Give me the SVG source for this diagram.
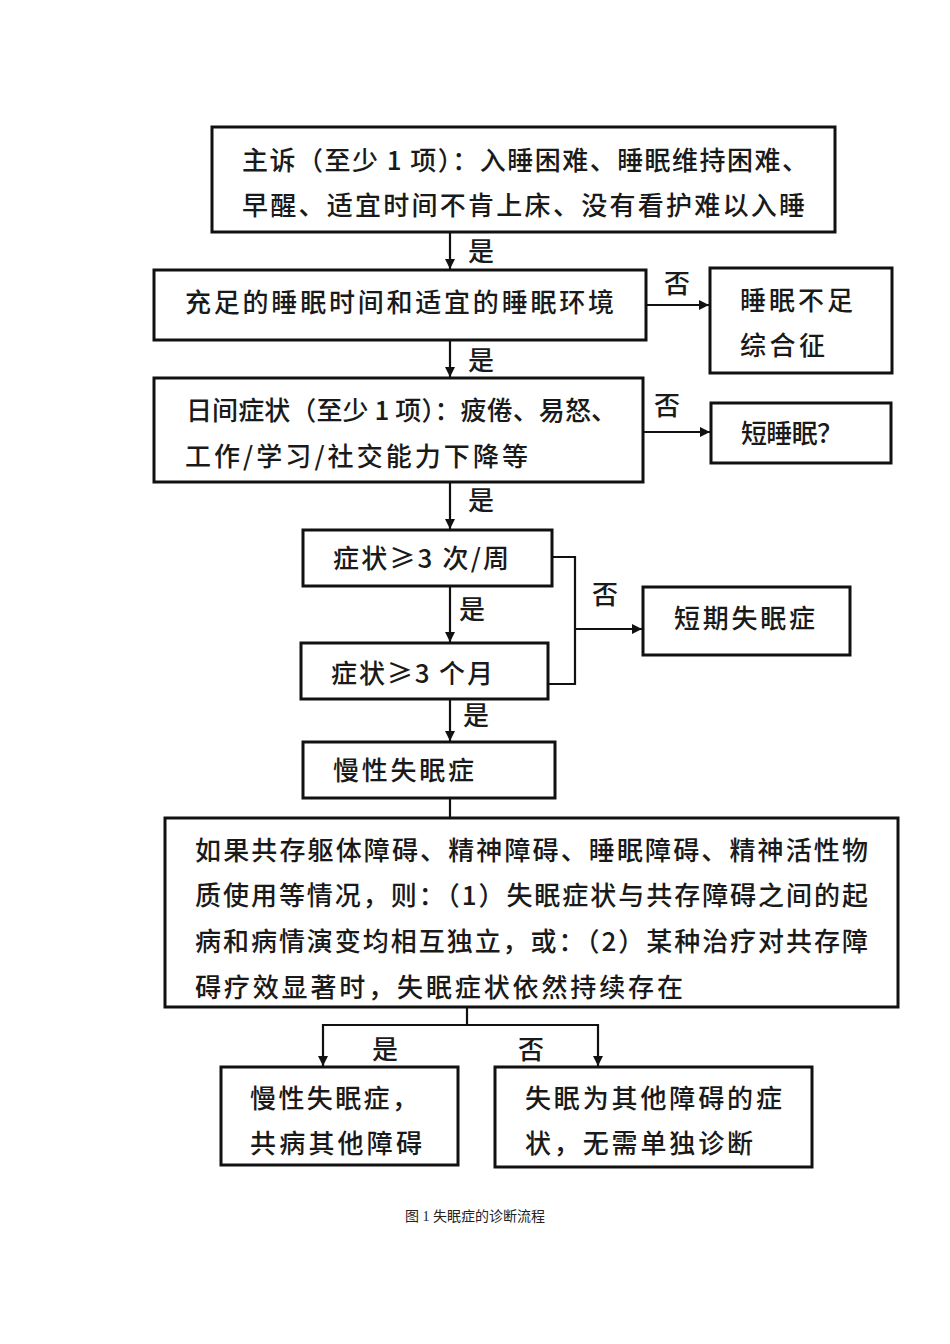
<svg xmlns="http://www.w3.org/2000/svg" width="950" height="1344" viewBox="0 0 950 1344">
<style>
.box{fill:#fff;stroke:#111;stroke-width:3}
.t{font-family:"Noto Sans CJK SC","Noto Sans",sans-serif;font-size:26px;fill:#1a1a1a;font-weight:500}
.lb{font-family:"Noto Sans CJK SC","Noto Sans",sans-serif;font-size:26px;fill:#1a1a1a;text-anchor:middle;font-weight:500}
.cap{font-family:"Liberation Serif","Noto Sans CJK SC",serif;font-size:14px;fill:#222;text-anchor:middle}
.c{fill:none;stroke:#111;stroke-width:2.2}
</style>
<defs>
<marker id="ah" viewBox="0 0 10 10" refX="10" refY="5" markerWidth="10" markerHeight="10" markerUnits="userSpaceOnUse" orient="auto">
<path d="M0,0 L10,5 L0,10 z" fill="#111"/>
</marker>
</defs>
<rect width="950" height="1344" fill="#fff"/>
<g id="connectors">
<line class="c" x1="450" y1="232" x2="450" y2="269" marker-end="url(#ah)"/>
<line class="c" x1="646" y1="305" x2="709" y2="305" marker-end="url(#ah)"/>
<line class="c" x1="450" y1="340" x2="450" y2="377" marker-end="url(#ah)"/>
<line class="c" x1="643" y1="432" x2="710" y2="432" marker-end="url(#ah)"/>
<line class="c" x1="450" y1="482" x2="450" y2="529" marker-end="url(#ah)"/>
<polyline class="c" points="552,557 575,557 575,684 548,684"/>
<line class="c" x1="575" y1="629" x2="642" y2="629" marker-end="url(#ah)"/>
<line class="c" x1="450" y1="586" x2="450" y2="642" marker-end="url(#ah)"/>
<line class="c" x1="450" y1="699" x2="450" y2="741" marker-end="url(#ah)"/>
<line class="c" x1="450" y1="798" x2="450" y2="818"/>
<line class="c" x1="467" y1="1007" x2="467" y2="1025"/>
<line class="c" x1="323" y1="1025" x2="598" y2="1025"/>
<line class="c" x1="323" y1="1024" x2="323" y2="1066" marker-end="url(#ah)"/>
<line class="c" x1="598" y1="1024" x2="598" y2="1066" marker-end="url(#ah)"/>
<text class="lb" x="481" y="261">是</text>
<text class="lb" x="677" y="293">否</text>
<text class="lb" x="481" y="370">是</text>
<text class="lb" x="667" y="415">否</text>
<text class="lb" x="481" y="510">是</text>
<text class="lb" x="605" y="604">否</text>
<text class="lb" x="472" y="619">是</text>
<text class="lb" x="476" y="725">是</text>
<text class="lb" x="385" y="1059">是</text>
<text class="lb" x="531" y="1059">否</text>
</g>
<g id="n1">
<rect class="box" x="212" y="127" width="623" height="105"/>
<text class="t" x="242" y="170" textLength="566" lengthAdjust="spacing">主诉（至少 1 项）：入睡困难、睡眠维持困难、</text>
<text class="t" x="242" y="215" textLength="563" lengthAdjust="spacing">早醒、适宜时间不肯上床、没有看护难以入睡</text>
</g>
<g id="n2">
<rect class="box" x="154" y="270" width="492" height="70"/>
<text class="t" x="185" y="312" textLength="429" lengthAdjust="spacing">充足的睡眠时间和适宜的睡眠环境</text>
</g>
<g id="n3">
<rect class="box" x="710" y="268" width="182" height="105"/>
<text class="t" x="740" y="310" textLength="113" lengthAdjust="spacing">睡眠不足</text>
<text class="t" x="740" y="355" textLength="85" lengthAdjust="spacing">综合征</text>
</g>
<g id="n4">
<rect class="box" x="154" y="378" width="489" height="104"/>
<text class="t" x="186" y="420" textLength="431" lengthAdjust="spacing">日间症状（至少 1 项）：疲倦、易怒、</text>
<text class="t" x="185" y="466" textLength="343" lengthAdjust="spacing">工作/学习/社交能力下降等</text>
</g>
<g id="n5">
<rect class="box" x="711" y="403" width="180" height="60"/>
<text class="t" x="741" y="443" textLength="102" lengthAdjust="spacing">短睡眠？</text>
</g>
<g id="n6">
<rect class="box" x="303" y="530" width="249" height="56"/>
<text class="t" x="333" y="568" textLength="176" lengthAdjust="spacing">症状≥3 次/周</text>
</g>
<g id="n7">
<rect class="box" x="643" y="587" width="207" height="68"/>
<text class="t" x="674" y="628" textLength="141" lengthAdjust="spacing">短期失眠症</text>
</g>
<g id="n8">
<rect class="box" x="301" y="643" width="247" height="56"/>
<text class="t" x="331" y="683" textLength="162" lengthAdjust="spacing">症状≥3 个月</text>
</g>
<g id="n9">
<rect class="box" x="303" y="742" width="252" height="56"/>
<text class="t" x="333" y="780" textLength="141" lengthAdjust="spacing">慢性失眠症</text>
</g>
<g id="n10">
<rect class="box" x="165" y="818" width="733" height="189"/>
<text class="t" x="195" y="860" textLength="673" lengthAdjust="spacing">如果共存躯体障碍、精神障碍、睡眠障碍、精神活性物</text>
<text class="t" x="195" y="905" textLength="673" lengthAdjust="spacing">质使用等情况，则：（1）失眠症状与共存障碍之间的起</text>
<text class="t" x="195" y="951" textLength="673" lengthAdjust="spacing">病和病情演变均相互独立，或：（2）某种治疗对共存障</text>
<text class="t" x="195" y="997" textLength="488" lengthAdjust="spacing">碍疗效显著时，失眠症状依然持续存在</text>
</g>
<g id="n11">
<rect class="box" x="221" y="1067" width="237" height="98"/>
<text class="t" x="250" y="1108" textLength="168" lengthAdjust="spacing">慢性失眠症，</text>
<text class="t" x="250" y="1153" textLength="172" lengthAdjust="spacing">共病其他障碍</text>
</g>
<g id="n12">
<rect class="box" x="495" y="1067" width="317" height="100"/>
<text class="t" x="525" y="1108" textLength="257" lengthAdjust="spacing">失眠为其他障碍的症</text>
<text class="t" x="525" y="1153" textLength="228" lengthAdjust="spacing">状，无需单独诊断</text>
</g>
<text class="cap" x="475" y="1221">图 1 失眠症的诊断流程</text>
</svg>
